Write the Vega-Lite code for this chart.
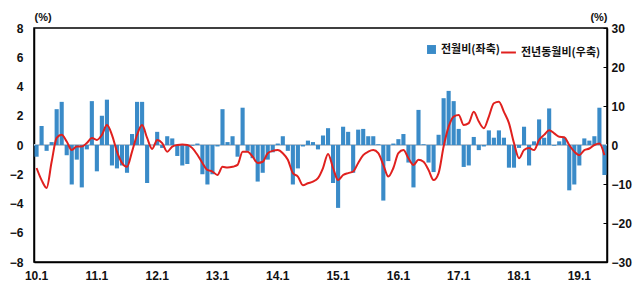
{
"$schema":"https://vega.github.io/schema/vega-lite/v6.json",
"width":573,"height":234,
"autosize":{"type":"none"},
"padding":{"left":34,"top":28,"right":35,"bottom":32},
"background":"white",
"config":{
 "view":{"stroke":"black","strokeWidth":1.5},
 "axis":{"labelFont":"Liberation Sans","labelFontWeight":"bold","labelFontSize":12,"labelColor":"#111","grid":false,"domainColor":"black","domainWidth":1.5,"titleFont":"Liberation Sans","titleFontWeight":"bold","titleFontSize":11,"titleColor":"#111"},
 "legend":{"orient":"none","labelFont":"Noto Sans CJK KR","labelFontSize":11,"labelFontWeight":"bold","labelColor":"#111","title":null,"padding":0}
},
"data":{"values":[
{"m":"10.1","a":-0.8,"b":-5.9},{"m":"10.2","a":1.3,"b":-9.0},{"m":"10.3","a":-0.4,"b":-11.0},{"m":"10.4","a":0.2,"b":-4.3},{"m":"10.5","a":2.45,"b":1.8},{"m":"10.6","a":2.95,"b":2.6},{"m":"10.7","a":-0.7,"b":0.9},{"m":"10.8","a":-2.7,"b":-1.3},{"m":"10.9","a":-1.0,"b":-0.4},{"m":"10.10","a":-2.9,"b":-0.4},{"m":"10.11","a":-0.3,"b":0.5},{"m":"10.12","a":3.0,"b":1.8},
{"m":"11.1","a":-1.8,"b":1.3},{"m":"11.2","a":2.0,"b":2.6},{"m":"11.3","a":3.1,"b":5.1},{"m":"11.4","a":-1.4,"b":2.6},{"m":"11.5","a":-1.6,"b":-1.7},{"m":"11.6","a":-1.4,"b":-4.6},{"m":"11.7","a":-1.9,"b":-5.6},{"m":"11.8","a":0.75,"b":-1.7},{"m":"11.9","a":2.95,"b":2.6},{"m":"11.10","a":2.95,"b":5.1},{"m":"11.11","a":-2.6,"b":1.8},{"m":"11.12","a":0.0,"b":-1.0},
{"m":"12.1","a":0.9,"b":1.3},{"m":"12.2","a":-0.2,"b":0.5},{"m":"12.3","a":0.6,"b":-1.7},{"m":"12.4","a":0.45,"b":-0.4},{"m":"12.5","a":-0.75,"b":0.0},{"m":"12.6","a":-1.4,"b":0.1},{"m":"12.7","a":-1.3,"b":0.0},{"m":"12.8","a":-0.05,"b":-0.8},{"m":"12.9","a":0.1,"b":-2.5},{"m":"12.10","a":-2.0,"b":-4.6},{"m":"12.11","a":-2.7,"b":-6.4},{"m":"12.12","a":-2.0,"b":-6.8},
{"m":"13.1","a":-0.1,"b":-7.7},{"m":"13.2","a":2.45,"b":-5.6},{"m":"13.3","a":0.2,"b":-5.8},{"m":"13.4","a":0.6,"b":-5.6},{"m":"13.5","a":-0.8,"b":-5.1},{"m":"13.6","a":2.55,"b":-1.7},{"m":"13.7","a":-0.4,"b":-1.7},{"m":"13.8","a":-0.9,"b":-3.0},{"m":"13.9","a":-2.5,"b":-4.6},{"m":"13.10","a":-1.9,"b":-4.3},{"m":"13.11","a":-1.0,"b":-2.1},{"m":"13.12","a":-0.5,"b":-1.5},
{"m":"14.1","a":0.1,"b":-1.3},{"m":"14.2","a":0.6,"b":-2.1},{"m":"14.3","a":-0.4,"b":-3.8},{"m":"14.4","a":-2.7,"b":-7.2},{"m":"14.5","a":-1.6,"b":-8.1},{"m":"14.6","a":-0.1,"b":-10.3},{"m":"14.7","a":0.3,"b":-9.8},{"m":"14.8","a":0.2,"b":-9.4},{"m":"14.9","a":-0.3,"b":-8.5},{"m":"14.10","a":0.65,"b":-5.9},{"m":"14.11","a":1.15,"b":-2.3},{"m":"14.12","a":-2.6,"b":-5.9},
{"m":"15.1","a":-4.3,"b":-9.0},{"m":"15.2","a":1.25,"b":-7.7},{"m":"15.3","a":0.9,"b":-7.2},{"m":"15.4","a":-1.9,"b":-6.8},{"m":"15.5","a":1.05,"b":-4.6},{"m":"15.6","a":1.1,"b":-2.6},{"m":"15.7","a":0.6,"b":-1.7},{"m":"15.8","a":0.6,"b":-1.3},{"m":"15.9","a":0.05,"b":-2.1},{"m":"15.10","a":-3.8,"b":-5.1},{"m":"15.11","a":-1.1,"b":-8.1},{"m":"15.12","a":0.1,"b":-5.9},
{"m":"16.1","a":0.4,"b":-2.1},{"m":"16.2","a":0.75,"b":-1.3},{"m":"16.3","a":-1.2,"b":-3.4},{"m":"16.4","a":-2.9,"b":-5.1},{"m":"16.5","a":2.4,"b":-3.8},{"m":"16.6","a":0.05,"b":-4.3},{"m":"16.7","a":-1.2,"b":-6.4},{"m":"16.8","a":-1.85,"b":-9.0},{"m":"16.9","a":0.7,"b":-7.2},{"m":"16.10","a":3.2,"b":-0.4},{"m":"16.11","a":3.7,"b":4.7},{"m":"16.12","a":3.0,"b":7.3},
{"m":"17.1","a":1.1,"b":7.7},{"m":"17.2","a":-1.5,"b":5.1},{"m":"17.3","a":-1.4,"b":5.6},{"m":"17.4","a":0.55,"b":8.5},{"m":"17.5","a":-0.35,"b":6.0},{"m":"17.6","a":-0.1,"b":4.3},{"m":"17.7","a":1.0,"b":7.3},{"m":"17.8","a":0.5,"b":10.7},{"m":"17.9","a":1.0,"b":11.1},{"m":"17.10","a":0.5,"b":8.5},{"m":"17.11","a":-1.55,"b":5.6},{"m":"17.12","a":-1.55,"b":0.5},
{"m":"18.1","a":-0.2,"b":-3.4},{"m":"18.2","a":1.25,"b":-1.3},{"m":"18.3","a":-1.4,"b":-0.8},{"m":"18.4","a":0.25,"b":-1.3},{"m":"18.5","a":1.75,"b":1.3},{"m":"18.6","a":0.5,"b":2.6},{"m":"18.7","a":2.5,"b":3.8},{"m":"18.8","a":-0.05,"b":3.0},{"m":"18.9","a":0.25,"b":2.1},{"m":"18.10","a":0.5,"b":2.0},{"m":"18.11","a":-3.1,"b":0.0},{"m":"18.12","a":-2.7,"b":-1.7},
{"m":"19.1","a":-1.4,"b":-2.6},{"m":"19.2","a":0.45,"b":-1.3},{"m":"19.3","a":0.3,"b":-0.9},{"m":"19.4","a":0.6,"b":0.0},{"m":"19.5","a":2.55,"b":0.4},{"m":"19.6","a":-2.05,"b":-2.6}
]},
"layer":[
 {"mark":{"type":"rule","color":"#b8c4d0","strokeWidth":1},
  "encoding":{"y":{"datum":0,"type":"quantitative","scale":{"domain":[-8,8]},"axis":null}}},
 {"mark":{"type":"bar"},
  "encoding":{
   "x":{"field":"m","type":"ordinal","sort":null,"scale":{"paddingInner":0.18,"paddingOuter":0.1},
        "axis":{"values":["10.1","11.1","12.1","13.1","14.1","15.1","16.1","17.1","18.1","19.1"],"ticks":false,"labelAngle":0,"labelPadding":8,"title":null}},
   "y":{"field":"a","type":"quantitative","scale":{"domain":[-8,8]},
        "axis":{"values":[-8,-6,-4,-2,0,2,4,6,8],"ticks":false,"labelPadding":11,"title":"(%)","titleAngle":0,"titleX":0,"titleY":-11,"titleAlign":"left","titleBaseline":"middle"}},
   "fill":{"datum":"전월비(좌축)","scale":{"range":["#3a8bc8"]},
        "legend":{"legendX":392,"legendY":16,"symbolType":"square","symbolSize":80,"symbolStrokeWidth":0}}
  }},
 {"mark":{"type":"line","strokeWidth":2,"interpolate":"monotone"},
  "encoding":{
   "x":{"field":"m","type":"ordinal","sort":null},
   "y":{"field":"b","type":"quantitative","scale":{"domain":[-30,30]},
        "axis":{"orient":"right","values":[-30,-20,-10,0,10,20,30],"tickSize":-4,"tickColor":"black","labelPadding":8,"title":"(%)","titleAngle":0,"titleX":0,"titleY":-11,"titleAlign":"right","titleBaseline":"middle"}},
   "stroke":{"datum":"전년동월비(우축)","scale":{"range":["#e0201e"]},
        "legend":{"legendX":466,"legendY":16,"symbolType":"stroke","symbolSize":220,"symbolStrokeWidth":2}}
  }}
],
"resolve":{"scale":{"y":"independent"}}
}
